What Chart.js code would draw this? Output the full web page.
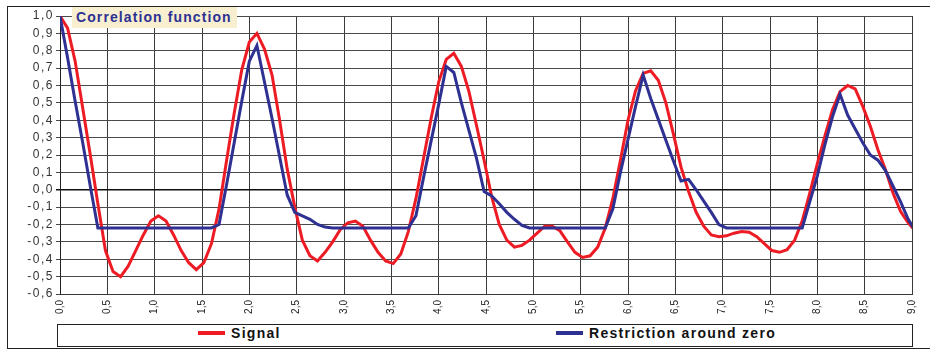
<!DOCTYPE html>
<html>
<head>
<meta charset="utf-8">
<script src="https://cdn.jsdelivr.net/npm/chart.js@4.4.1/dist/chart.umd.min.js"></script>
<style>
  body { margin: 0; background: #fff; }
  #wrap { position: relative; width: 930px; height: 350px; overflow: hidden; background: #fff; }
  #frame { position: absolute; left: 7px; top: 6px; width: 960px; height: 341px; border: 1px solid #222; }
  #chart { position: absolute; left: 0; top: 0; }
  #title {
    position: absolute; left: 72px; top: 7px; width: 165px; height: 21px;
    background: #f7efd0; color: #2e3192; box-sizing: border-box; padding-left: 4px;
    font: bold 14px "Liberation Sans", Arial, sans-serif; letter-spacing: 1.1px; line-height: 21px;
  }
  #legend {
    position: absolute; left: 57px; top: 324px; width: 856px; height: 23px;
    box-sizing: border-box; border: 1px solid #222; background: #fff;
  }
  .item { position: absolute; top: 0; height: 21px; line-height: 21px;
    font: bold 14px "Liberation Sans", Arial, sans-serif; letter-spacing: 1.3px; color: #111; white-space: nowrap; }
  .item span { display: inline-block; width: 27px; height: 4px; vertical-align: middle; margin-right: 6px; margin-top: -2px; }
</style>
</head>
<body>
<div id="wrap">
  <div id="frame"></div>
  <canvas id="chart" width="930" height="350"></canvas>
  <div id="title">Correlation function</div>
  <div id="legend"></div>
</div>
<script>
// lag step of the samples (x axis)
const lagStep = 0.08;

// Signal correlation, one value per lag step
const signal = [
  1.00, 0.93, 0.74, 0.47, 0.20, -0.08, -0.35, -0.47, -0.50, -0.44,
  -0.35, -0.26, -0.18, -0.15, -0.18, -0.26, -0.35, -0.42, -0.46, -0.42,
  -0.31, -0.11, 0.17, 0.44, 0.69, 0.85, 0.90, 0.81, 0.66, 0.40,
  0.12, -0.10, -0.29, -0.38, -0.41, -0.36, -0.30, -0.23, -0.19, -0.18,
  -0.21, -0.29, -0.36, -0.41, -0.425, -0.37, -0.24, -0.05, 0.18, 0.41,
  0.62, 0.75, 0.785, 0.71, 0.565, 0.37, 0.17, -0.04, -0.20, -0.29,
  -0.33, -0.32, -0.29, -0.25, -0.21, -0.21, -0.235, -0.30, -0.36, -0.39,
  -0.38, -0.33, -0.22, -0.05, 0.17, 0.40, 0.57, 0.67, 0.685, 0.63,
  0.50, 0.32, 0.13, -0.01, -0.13, -0.21, -0.26, -0.27, -0.265, -0.25,
  -0.24, -0.245, -0.27, -0.31, -0.35, -0.36, -0.345, -0.29, -0.18, -0.02,
  0.15, 0.31, 0.46, 0.565, 0.60, 0.58, 0.48, 0.365, 0.23, 0.115,
  -0.02, -0.125, -0.19, -0.24
];

// Restriction around zero
const restriction = [
  1.00, 0.76, 0.51, 0.27, 0.02, -0.22, -0.22, -0.22, -0.22, -0.22,
  -0.22, -0.22, -0.22, -0.22, -0.22, -0.22, -0.22, -0.22, -0.22, -0.22,
  -0.22, -0.20, 0.03, 0.27, 0.51, 0.74, 0.83, 0.62, 0.41, 0.19,
  -0.03, -0.13, -0.15, -0.17, -0.20, -0.215, -0.22, -0.22, -0.22, -0.22,
  -0.22, -0.22, -0.22, -0.22, -0.22, -0.22, -0.22, -0.15, 0.07, 0.28,
  0.49, 0.71, 0.675, 0.50, 0.34, 0.18, -0.01, -0.035, -0.08, -0.13,
  -0.17, -0.205, -0.22, -0.22, -0.22, -0.22, -0.22, -0.22, -0.22, -0.22,
  -0.22, -0.22, -0.22, -0.11, 0.10, 0.29, 0.48, 0.66, 0.525, 0.405,
  0.285, 0.165, 0.05, 0.06, 0.00, -0.065, -0.13, -0.20, -0.22, -0.22,
  -0.22, -0.22, -0.22, -0.22, -0.22, -0.22, -0.22, -0.22, -0.22, -0.07,
  0.08, 0.26, 0.42, 0.55, 0.43, 0.35, 0.27, 0.20, 0.17, 0.11,
  0.02, -0.07, -0.17, -0.24
];

const seriesNames = ['Signal', 'Restriction around zero'];
const xMin = 0, xMax = 9, xStep = 0.5;
const yMin = -0.6, yMax = 1.0, yStep = 0.1;

function toPoints(values) {
  return values.map((v, i) => ({ x: +(i * lagStep).toFixed(2), y: v }));
}

function comma(v) {
  if (Math.abs(v) < 1e-9) v = 0;
  return v.toFixed(1).replace('.', ',');
}

Chart.defaults.font.family = '"Liberation Sans", Arial, sans-serif';

// wider spacing on the value labels, like the original
const spacedTicks = {
  id: 'spacedTicks',
  afterLayout(chart) {
    const y = chart.scales.y;
    if (y && !y._spaced) {
      const orig = y.drawLabels;
      y.drawLabels = function (area) {
        const c = this.ctx;
        c.save();
        c.letterSpacing = '1.5px';
        orig.call(this, area);
        c.restore();
      };
      y._spaced = true;
    }
  }
};

// html legend built from the datasets
const htmlLegend = {
  id: 'htmlLegend',
  afterUpdate(chart) {
    const box = document.getElementById('legend');
    box.innerHTML = '';
    const lefts = [140, 498];
    chart.data.datasets.forEach((ds, i) => {
      const it = document.createElement('div');
      it.className = 'item';
      it.style.left = lefts[i] + 'px';
      const sw = document.createElement('span');
      sw.style.background = ds.borderColor;
      it.appendChild(sw);
      it.appendChild(document.createTextNode(ds.label));
      box.appendChild(it);
    });
  }
};

const ctx = document.getElementById('chart').getContext('2d');
const chart = new Chart(ctx, {
  type: 'line',
  data: {
    datasets: [
      {
        label: seriesNames[0],
        data: toPoints(signal),
        borderColor: '#ed1c24',
        backgroundColor: '#ed1c24',
        borderWidth: 3,
        pointRadius: 0,
        tension: 0,
        order: 1
      },
      {
        label: seriesNames[1],
        data: toPoints(restriction),
        borderColor: '#2e3192',
        backgroundColor: '#2e3192',
        borderWidth: 3,
        pointRadius: 0,
        tension: 0,
        order: 0
      }
    ]
  },
  options: {
    responsive: false,
    animation: false,
    events: [],
    layout: { padding: { left: 0, top: 16, right: 17, bottom: 0 } },
    plugins: {
      legend: { display: false },
      tooltip: { enabled: false },
      title: { display: false }
    },
    scales: {
      x: {
        type: 'linear',
        min: xMin,
        max: xMax,
        afterFit(scale) { scale.height = 56; },
        ticks: {
          stepSize: xStep,
          autoSkip: false,
          minRotation: 90,
          maxRotation: 90,
          padding: 6,
          color: '#222',
          font: { size: 10 },
          callback: (v) => comma(v)
        },
        grid: { color: '#3a3a3a', lineWidth: 1, drawTicks: false },
        border: { display: true, color: '#3a3a3a', width: 1 }
      },
      y: {
        min: yMin,
        max: yMax,
        afterFit(scale) { scale.width = 60; },
        ticks: {
          stepSize: yStep,
          autoSkip: false,
          padding: 2,
          color: '#333',
          font: { size: 12 },
          callback: (v) => comma(v)
        },
        grid: {
          color: (c) => (c.tick && Math.abs(c.tick.value) < 1e-9 ? '#111' : '#4a4a4a'),
          lineWidth: (c) => (c.tick && Math.abs(c.tick.value) < 1e-9 ? 1.5 : 1),
          tickLength: 4
        },
        border: { display: true, color: '#222', width: 1 }
      }
    }
  },
  plugins: [spacedTicks, htmlLegend]
});
</script>
</body>
</html>
